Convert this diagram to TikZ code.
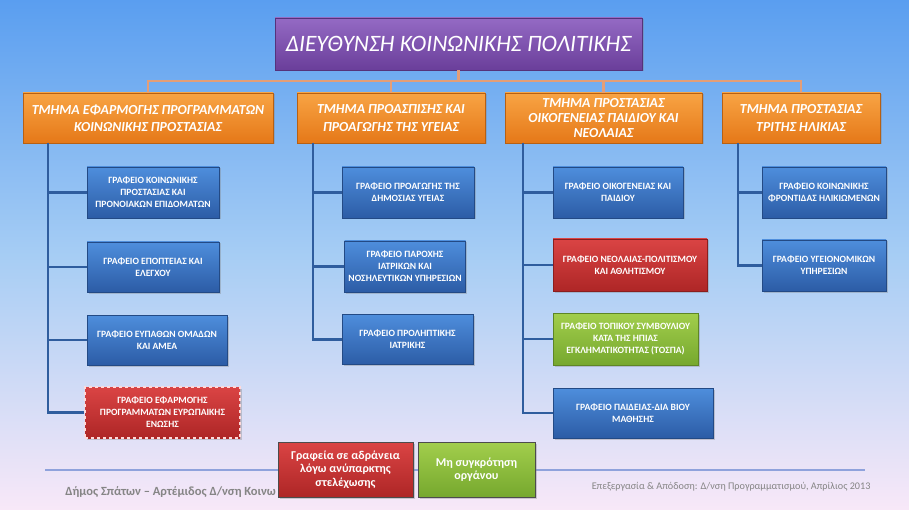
\documentclass[tikz,border=0pt]{standalone}
\usepackage{fontspec}
\setmainfont{Carlito}
\usetikzlibrary{shadows}

\definecolor{bgtop}{HTML}{5A9EF0}
\definecolor{bgmid}{HTML}{A6CDF4}
\definecolor{bgbot}{HTML}{F8E8F8}
\definecolor{purtop}{HTML}{946AC4}
\definecolor{purbot}{HTML}{6A3E9A}
\definecolor{orgtop}{HTML}{F8A444}
\definecolor{orgbot}{HTML}{E57818}
\definecolor{blutop}{HTML}{4E8EDC}
\definecolor{blubot}{HTML}{2C5CA6}
\definecolor{redtop}{HTML}{DA4444}
\definecolor{redbot}{HTML}{AE2626}
\definecolor{grntop}{HTML}{A2CE4C}
\definecolor{grnbot}{HTML}{76A82E}
\definecolor{busline}{HTML}{E49E78}
\definecolor{spineline}{HTML}{2F5D9E}
\definecolor{footline}{HTML}{8FA2DC}
\definecolor{foottext}{HTML}{858585}

\tikzset{
	boxshadow/.style={drop shadow={shadow xshift=1.5pt, shadow yshift=-1.5pt, opacity=0.35}},
	headbox/.style={draw=purbot!80!black, line width=0.6pt, top color=purtop, bottom color=purbot, text=white, boxshadow,
		font=\fontsize{23.5}{27}\selectfont\itshape},
	deptbox/.style={draw=orgbot!80!black, line width=0.6pt, top color=orgtop, bottom color=orgbot, text=white, boxshadow,
		align=center, minimum height=50, font=\fontsize{13.8}{17.5}\selectfont\bfseries\itshape},
	office/.style={draw=blubot!80!black, line width=0.6pt, top color=blutop, bottom color=blubot, text=white, boxshadow,
		align=center, inner sep=2pt, font=\fontsize{9.6}{12}\selectfont\bfseries},
	redoffice/.style={office, top color=redtop, bottom color=redbot, draw=redbot!80!black},
	greenoffice/.style={office, top color=grntop, bottom color=grnbot, draw=grnbot!80!black},
	legendbox/.style={draw=black!70, line width=0.6pt, text=white, boxshadow, align=center,
		font=\fontsize{12}{13.5}\selectfont\bfseries},
	bus/.style={busline, line width=2.5pt},
	spine/.style={spineline, line width=2.2pt},
}

\begin{document}
\begin{tikzpicture}[x=1pt,y=-1pt]

	% background
	\path[top color=bgtop, bottom color=bgbot, middle color=bgmid] (0,0) rectangle (909,510);

	\useasboundingbox (0,0) rectangle (909,510);

	% footer
	\draw[footline, line width=1.2pt] (45,470) -- (865,470);

	\node[anchor=east, inner sep=0pt, text=foottext, font=\fontsize{12.5}{14}\selectfont\bfseries] (foot1) at (276,492)
		{Δήμος Σπάτων – Αρτέμιδος Δ/νση Κοινω};

	\node[anchor=east, text=foottext, font=\fontsize{10.2}{12}\selectfont] (foot2) at (874,487)
		{Επεξεργασία \& Απόδοση: Δ/νση Προγραμματισμού, Απρίλιος 2013};

	% define point

	\coordinate (b0) at (458.5,81);

	\coordinate (s1) at (48,143);

	\coordinate (s2) at (313,143);

	\coordinate (s3) at (523,143);

	\coordinate (s4) at (738,143);

	% head and departments

	\node[headbox, minimum width=367, minimum height=52] (head) at (458.5,44) {ΔΙΕΥΘΥΝΣΗ ΚΟΙΝΩΝΙΚΗΣ ΠΟΛΙΤΙΚΗΣ};

	\node[deptbox, minimum width=250] (dept1) at (148,118) {ΤΜΗΜΑ ΕΦΑΡΜΟΓΗΣ ΠΡΟΓΡΑΜΜΑΤΩΝ\\ΚΟΙΝΩΝΙΚΗΣ ΠΡΟΣΤΑΣΙΑΣ};

	\node[deptbox, minimum width=188] (dept2) at (391,118) {ΤΜΗΜΑ ΠΡΟΑΣΠΙΣΗΣ ΚΑΙ\\ΠΡΟΑΓΩΓΗΣ ΤΗΣ ΥΓΕΙΑΣ};

	\node[deptbox, minimum width=197, font=\fontsize{13.8}{15}\selectfont\bfseries\itshape] (dept3) at (603.5,118)
		{ΤΜΗΜΑ ΠΡΟΣΤΑΣΙΑΣ\\ΟΙΚΟΓΕΝΕΙΑΣ ΠΑΙΔΙΟΥ ΚΑΙ\\ΝΕΟΛΑΙΑΣ};

	\node[deptbox, minimum width=158] (dept4) at (801,118) {ΤΜΗΜΑ ΠΡΟΣΤΑΣΙΑΣ\\ΤΡΙΤΗΣ ΗΛΙΚΙΑΣ};

	% offices

	\node[office, minimum width=132, minimum height=51] (a1) at (153,192.5) {ΓΡΑΦΕΙΟ ΚΟΙΝΩΝΙΚΗΣ\\ΠΡΟΣΤΑΣΙΑΣ ΚΑΙ\\ΠΡΟΝΟΙΑΚΩΝ ΕΠΙΔΟΜΑΤΩΝ};

	\node[office, minimum width=132, minimum height=50] (a2) at (153,267) {ΓΡΑΦΕΙΟ ΕΠΟΠΤΕΙΑΣ ΚΑΙ\\ΕΛΕΓΧΟΥ};

	\node[office, minimum width=140, minimum height=50] (a3) at (157,340) {ΓΡΑΦΕΙΟ ΕΥΠΑΘΩΝ ΟΜΑΔΩΝ\\ΚΑΙ ΑΜΕΑ};

	\node[redoffice, minimum width=155, minimum height=51, draw=white!85!red, dashed, line width=1.2pt] (a4) at (162.5,412.5)
		{ΓΡΑΦΕΙΟ ΕΦΑΡΜΟΓΗΣ\\ΠΡΟΓΡΑΜΜΑΤΩΝ ΕΥΡΩΠΑΙΚΗΣ\\ΕΝΩΣΗΣ};

	\node[office, minimum width=132, minimum height=51] (b1) at (408,192.5) {ΓΡΑΦΕΙΟ ΠΡΟΑΓΩΓΗΣ ΤΗΣ\\ΔΗΜΟΣΙΑΣ ΥΓΕΙΑΣ};

	\node[office, minimum width=121, minimum height=51] (b2) at (405,266.5) {ΓΡΑΦΕΙΟ ΠΑΡΟΧΗΣ\\ΙΑΤΡΙΚΩΝ ΚΑΙ\\ΝΟΣΗΛΕΥΤΙΚΩΝ ΥΠΗΡΕΣΙΩΝ};

	\node[office, minimum width=131, minimum height=50] (b3) at (407.5,339.5) {ΓΡΑΦΕΙΟ ΠΡΟΛΗΠΤΙΚΗΣ\\ΙΑΤΡΙΚΗΣ};

	\node[office, minimum width=130, minimum height=51] (c1) at (618,192.5) {ΓΡΑΦΕΙΟ ΟΙΚΟΓΕΝΕΙΑΣ ΚΑΙ\\ΠΑΙΔΙΟΥ};

	\node[redoffice, minimum width=154, minimum height=52] (c2) at (630,265) {ΓΡΑΦΕΙΟ ΝΕΟΛΑΙΑΣ-ΠΟΛΙΤΙΣΜΟΥ\\ΚΑΙ ΑΘΛΗΤΙΣΜΟΥ};

	\node[greenoffice, minimum width=145, minimum height=52] (c3) at (625.5,339)
		{ΓΡΑΦΕΙΟ ΤΟΠΙΚΟΥ ΣΥΜΒΟΥΛΙΟΥ\\ΚΑΤΑ ΤΗΣ ΗΠΙΑΣ\\ΕΓΚΛΗΜΑΤΙΚΟΤΗΤΑΣ (ΤΟΣΠΑ)};

	\node[office, minimum width=160, minimum height=50] (c4) at (633,413) {ΓΡΑΦΕΙΟ ΠΑΙΔΕΙΑΣ-ΔΙΑ ΒΙΟΥ\\ΜΑΘΗΣΗΣ};

	\node[office, minimum width=124, minimum height=51] (d1) at (824,192.5) {ΓΡΑΦΕΙΟ ΚΟΙΝΩΝΙΚΗΣ\\ΦΡΟΝΤΙΔΑΣ ΗΛΙΚΙΩΜΕΝΩΝ};

	\node[office, minimum width=124, minimum height=51] (d2) at (824,265.5) {ΓΡΑΦΕΙΟ ΥΓΕΙΟΝΟΜΙΚΩΝ\\ΥΠΗΡΕΣΙΩΝ};

	% lines

	\draw[bus] (head.south) -- (b0);

	\draw[bus] (b0) -| (dept1.north);

	\draw[bus] (b0) -| (dept2.north);

	\draw[bus] (b0) -| (dept3.north);

	\draw[bus] (b0) -| (dept4.north);

	\foreach \n in {a1,a2,a3,a4} \draw[spine] (s1) |- (\n.west);

	\foreach \n in {b1,b2,b3} \draw[spine] (s2) |- (\n.west);

	\foreach \n in {c1,c2,c3,c4} \draw[spine] (s3) |- (\n.west);

	\foreach \n in {d1,d2} \draw[spine] (s4) |- (\n.west);

	% legend

	\node[legendbox, top color=redtop, bottom color=redbot, minimum width=135, minimum height=55] (idle) at (345.5,469.5)
		{Γραφεία σε αδράνεια\\λόγω ανύπαρκτης\\στελέχωσης};

	\node[legendbox, top color=grntop, bottom color=grnbot, minimum width=117, minimum height=55] (noorg) at (476.5,469.5)
		{Μη συγκρότηση\\οργάνου};

\end{tikzpicture}
\end{document}
